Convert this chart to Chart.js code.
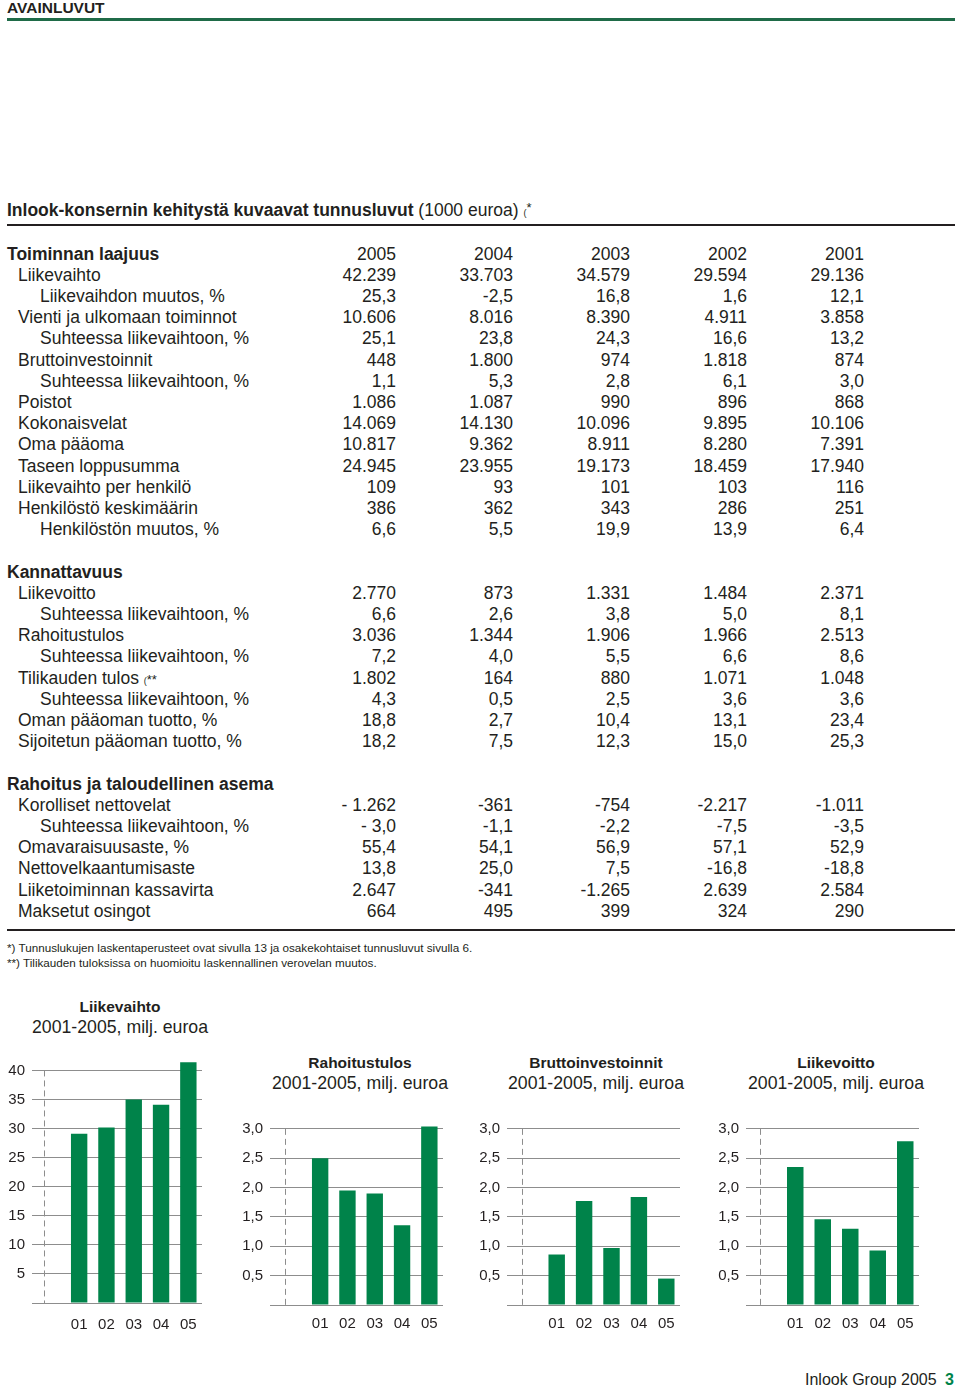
<!DOCTYPE html>
<html lang="fi">
<head>
<meta charset="utf-8">
<title>Avainluvut</title>
<script src="https://cdn.jsdelivr.net/npm/chart.js"></script>
<style>
  body { margin: 0; background: #fff; }
  #sivu { position: relative; width: 960px; height: 1390px; overflow: hidden;
          font-family: "Liberation Sans", Arial, sans-serif; color: #231f20; }
  .abs { position: absolute; white-space: nowrap; }
  .rivi { position: absolute; left: 0; width: 960px; height: 21px; line-height: 21px; font-size: 17.5px; }
  .rivi span { position: absolute; top: 0; }
  .rivi span.sis { position: relative; }
  .luku { text-align: right; }
  .otsake { font-weight: bold; }
  .pieni { font-size: 9px; }
  .tahti { font-size: 13px; position: relative; top: -4px; }
  .ots1 { font-size: 15.5px; font-weight: bold; text-align: center; }
  .ots2 { font-size: 17.7px; text-align: center; }
  canvas { position: absolute; }
</style>
</head>
<body>
<div id="sivu">
  <div class="abs" style="left:7px;top:0px;font-size:15.5px;line-height:16px;font-weight:bold;">AVAINLUVUT</div>
  <div class="abs" style="left:7px;top:18px;width:948px;height:3px;background:#1f6b48;"></div>

  <div class="abs" style="left:7px;top:200px;font-size:17.5px;line-height:21px;">
    <b>Inlook-konsernin kehitystä kuvaavat tunnusluvut</b> (1000 euroa) <span class="pieni">(</span><span class="tahti">*</span>
  </div>
  <div class="abs" style="left:7px;top:224px;width:948px;height:2px;background:#231f20;"></div>

  <div id="taulukko"></div>

  <div class="abs" style="left:7px;top:929px;width:948px;height:2px;background:#231f20;"></div>
  <div class="abs" style="left:7px;top:941px;font-size:11.7px;">*) Tunnuslukujen laskentaperusteet ovat sivulla 13 ja osakekohtaiset tunnusluvut sivulla 6.</div>
  <div class="abs" style="left:7px;top:956px;font-size:11.7px;">**) Tilikauden tuloksissa on huomioitu laskennallinen verovelan muutos.</div>

  <div class="abs ots1" style="left:20px;width:200px;top:998px;">Liikevaihto</div>
  <div class="abs ots2" style="left:20px;width:200px;top:1017px;">2001-2005, milj. euroa</div>
  <div class="abs ots1" style="left:260px;width:200px;top:1054px;">Rahoitustulos</div>
  <div class="abs ots2" style="left:260px;width:200px;top:1073px;">2001-2005, milj. euroa</div>
  <div class="abs ots1" style="left:496px;width:200px;top:1054px;">Bruttoinvestoinnit</div>
  <div class="abs ots2" style="left:496px;width:200px;top:1073px;">2001-2005, milj. euroa</div>
  <div class="abs ots1" style="left:736px;width:200px;top:1054px;">Liikevoitto</div>
  <div class="abs ots2" style="left:736px;width:200px;top:1073px;">2001-2005, milj. euroa</div>

  <canvas id="liikevaihto-chart" width="202" height="310" style="left:0px;top:1033px;"></canvas>
  <canvas id="rahoitustulos-chart" width="213" height="242" style="left:230px;top:1103px;"></canvas>
  <canvas id="brutto-chart" width="210" height="242" style="left:470px;top:1103px;"></canvas>
  <canvas id="liikevoitto-chart" width="209" height="242" style="left:710px;top:1103px;"></canvas>

  <div class="abs" style="left:805px;top:1371px;font-size:16px;">Inlook Group 2005 <b style="color:#00834a;margin-left:4px;">3</b></div>
</div>

<script>
// kaavioiden arvot (milj. euroa), luettu kuvasta
const vuodet = ["01", "02", "03", "04", "05"]
const liikevaihto = [29.1, 30.2, 35.0, 34.1, 41.4]
const rahoitustulos = [2.50, 1.95, 1.90, 1.36, 3.04]
const bruttoinvestoinnit = [0.86, 1.77, 0.97, 1.84, 0.45]
const liikevoitto = [2.35, 1.46, 1.30, 0.93, 2.79]

// taulukon sarakkeet
const taulukonVuodet = ["2005", "2004", "2003", "2002", "2001"]

// [teksti, sisennys, arvot]  sisennys: 0 = otsake, 1, 2
const osaLaajuus = [
  ["Toiminnan laajuus", 0, taulukonVuodet],
  ["Liikevaihto", 1, ["42.239", "33.703", "34.579", "29.594", "29.136"]],
  ["Liikevaihdon muutos, %", 2, ["25,3", "-2,5", "16,8", "1,6", "12,1"]],
  ["Vienti ja ulkomaan toiminnot", 1, ["10.606", "8.016", "8.390", "4.911", "3.858"]],
  ["Suhteessa liikevaihtoon, %", 2, ["25,1", "23,8", "24,3", "16,6", "13,2"]],
  ["Bruttoinvestoinnit", 1, ["448", "1.800", "974", "1.818", "874"]],
  ["Suhteessa liikevaihtoon, %", 2, ["1,1", "5,3", "2,8", "6,1", "3,0"]],
  ["Poistot", 1, ["1.086", "1.087", "990", "896", "868"]],
  ["Kokonaisvelat", 1, ["14.069", "14.130", "10.096", "9.895", "10.106"]],
  ["Oma pääoma", 1, ["10.817", "9.362", "8.911", "8.280", "7.391"]],
  ["Taseen loppusumma", 1, ["24.945", "23.955", "19.173", "18.459", "17.940"]],
  ["Liikevaihto per henkilö", 1, ["109", "93", "101", "103", "116"]],
  ["Henkilöstö keskimäärin", 1, ["386", "362", "343", "286", "251"]],
  ["Henkilöstön muutos, %", 2, ["6,6", "5,5", "19,9", "13,9", "6,4"]],
]
const osaKannattavuus = [
  ["Kannattavuus", 0, []],
  ["Liikevoitto", 1, ["2.770", "873", "1.331", "1.484", "2.371"]],
  ["Suhteessa liikevaihtoon, %", 2, ["6,6", "2,6", "3,8", "5,0", "8,1"]],
  ["Rahoitustulos", 1, ["3.036", "1.344", "1.906", "1.966", "2.513"]],
  ["Suhteessa liikevaihtoon, %", 2, ["7,2", "4,0", "5,5", "6,6", "8,6"]],
  ["Tilikauden tulos (**", 1, ["1.802", "164", "880", "1.071", "1.048"]],
  ["Suhteessa liikevaihtoon, %", 2, ["4,3", "0,5", "2,5", "3,6", "3,6"]],
  ["Oman pääoman tuotto, %", 1, ["18,8", "2,7", "10,4", "13,1", "23,4"]],
  ["Sijoitetun pääoman tuotto, %", 1, ["18,2", "7,5", "12,3", "15,0", "25,3"]],
]
const osaRahoitus = [
  ["Rahoitus ja taloudellinen asema", 0, []],
  ["Korolliset nettovelat", 1, ["- 1.262", "-361", "-754", "-2.217", "-1.011"]],
  ["Suhteessa liikevaihtoon, %", 2, ["- 3,0", "-1,1", "-2,2", "-7,5", "-3,5"]],
  ["Omavaraisuusaste, %", 1, ["55,4", "54,1", "56,9", "57,1", "52,9"]],
  ["Nettovelkaantumisaste", 1, ["13,8", "25,0", "7,5", "-16,8", "-18,8"]],
  ["Liiketoiminnan kassavirta", 1, ["2.647", "-341", "-1.265", "2.639", "2.584"]],
  ["Maksetut osingot", 1, ["664", "495", "399", "324", "290"]],
]

//* taulukko
const sarakeOikea = [396, 513, 630, 747, 864]
const sisennykset = [7, 18, 40]
const taulukko = document.querySelector("#taulukko")
let riviNro = 0
;[osaLaajuus, osaKannattavuus, osaRahoitus].forEach(osa => {
  osa.forEach(([teksti, sisennys, arvot]) => {
    const rivi = document.createElement("div")
    rivi.className = "rivi"
    rivi.style.top = (253 + riviNro * 21.2 - 9.5) + "px"
    const nimi = document.createElement("span")
    nimi.style.left = sisennykset[sisennys] + "px"
    if (sisennys === 0) nimi.className = "otsake"
    if (teksti.endsWith("(**")) {
      nimi.innerHTML = teksti.replace("(**", '<span class="sis pieni">(</span><span class="sis tahti">**</span>')
    } else {
      nimi.textContent = teksti
    }
    rivi.appendChild(nimi)
    arvot.forEach((arvo, i) => {
      const s = document.createElement("span")
      s.className = "luku"
      s.style.right = (960 - sarakeOikea[i]) + "px"
      s.textContent = arvo
      rivi.appendChild(s)
    })
    taulukko.appendChild(rivi)
    riviNro++
  })
  riviNro++ // tyhjä rivi osien väliin
})

//* pylväskaaviot
const vihrea = "#00834a"
const ruudukko = "#8d8d8d"

const katkoviiva = {
  id: "katkoviiva",
  beforeDatasetsDraw(chart, args, opts) {
    const { ctx, chartArea, scales } = chart
    const x = Math.round(chartArea.left - opts.siirto) + 0.5
    ctx.save()
    ctx.strokeStyle = ruudukko
    ctx.lineWidth = 1
    ctx.setLineDash([6, 4])
    ctx.beginPath()
    ctx.moveTo(x, scales.y.getPixelForValue(opts.yla))
    ctx.lineTo(x, scales.y.getPixelForValue(0))
    ctx.stroke()
    ctx.restore()
  }
}

function pylvaat(id, arvot, a) {
  const ctx = document.querySelector(id).getContext("2d")
  return new Chart(ctx, {
    type: "bar",
    data: {
      labels: vuodet,
      datasets: [{
        data: arvot,
        backgroundColor: vihrea,
        borderWidth: 0,
        barPercentage: 0.6,
        categoryPercentage: 1,
      }]
    },
    options: {
      responsive: false,
      animation: false,
      devicePixelRatio: 1,
      layout: { padding: { top: 20, left: 0, right: 0, bottom: 0 } },
      plugins: {
        legend: { display: false },
        tooltip: { enabled: false },
        katkoviiva: { siirto: 21.5, yla: a.yla },
      },
      scales: {
        x: {
          // tickLength siirtää tekstit alas ilman sivupehmustetta
          grid: { display: false, drawTicks: true, tickLength: a.xVali },
          border: { display: false },
          ticks: { padding: 0, color: "#231f20", font: { family: "Liberation Sans", size: 15 } },
          afterFit: s => { s.height = 40 },
        },
        y: {
          min: 0,
          max: a.max,
          border: { display: false },
          grid: { color: ruudukko, lineWidth: 1, tickLength: a.tick, drawTicks: true },
          ticks: {
            padding: 7,
            color: "#231f20",
            font: { family: "Liberation Sans", size: 15 },
            callback: v => v === 0 ? "" : v.toFixed(a.des).replace(".", ","),
          },
          afterBuildTicks: s => {
            const n = Math.round(a.yla / a.step)
            s.ticks = Array.from({ length: n + 1 }, (_, i) => ({ value: +(i * a.step).toFixed(2) }))
          },
          afterFit: s => { s.width = a.leveys },
        }
      }
    },
    plugins: [katkoviiva]
  })
}

pylvaat("#liikevaihto-chart", liikevaihto, { max: 43, step: 5, des: 0, yla: 40, tick: 33.5, leveys: 65.5, xVali: 13 })
pylvaat("#rahoitustulos-chart", rahoitustulos, { max: 3.1, step: 0.5, des: 1, yla: 3, tick: 36.5, leveys: 76.5, xVali: 10 })
pylvaat("#brutto-chart", bruttoinvestoinnit, { max: 3.1, step: 0.5, des: 1, yla: 3, tick: 36, leveys: 73, xVali: 10 })
pylvaat("#liikevoitto-chart", liikevoitto, { max: 3.1, step: 0.5, des: 1, yla: 3, tick: 35.5, leveys: 71.5, xVali: 10 })
</script>
</body>
</html>
